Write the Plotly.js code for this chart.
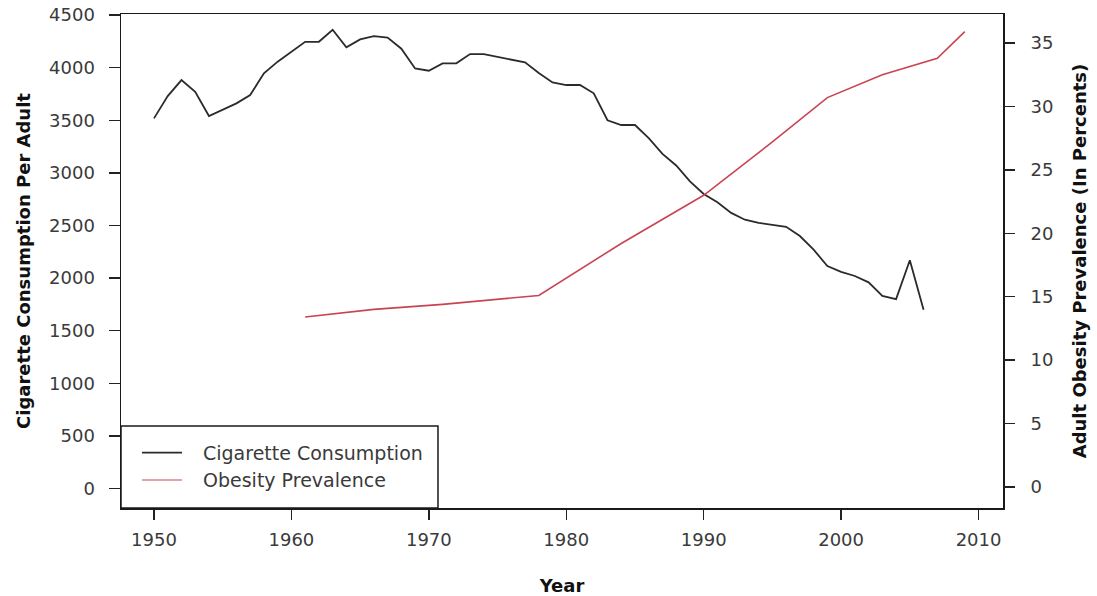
<!DOCTYPE html>
<html>
<head>
<meta charset="utf-8">
<script src="https://cdn.plot.ly/plotly-3.0.1.min.js"></script>
<style>
  html, body { margin: 0; padding: 0; background: #ffffff; }
  #chart { width: 1097px; height: 596px; }
</style>
</head>
<body>
<div id="chart"></div>
<script>
// ---- data ----
const cigYears = [1950,1951,1952,1953,1954,1955,1956,1957,1958,1959,
                  1960,1961,1962,1963,1964,1965,1966,1967,1968,1969,
                  1970,1971,1972,1973,1974,1975,1976,1977,1978,1979,
                  1980,1981,1982,1983,1984,1985,1986,1987,1988,1989,
                  1990,1991,1992,1993,1994,1995,1996,1997,1998,1999,
                  2000,2001,2002,2003,2004,2005,2006];
const cigValues = [3518,3730,3882,3771,3540,3597,3661,3740,3946,4057,
                   4151,4246,4246,4360,4193,4269,4300,4285,4180,3993,
                   3971,4041,4041,4129,4129,4105,4080,4050,3950,3860,
                   3835,3835,3756,3500,3455,3455,3330,3180,3070,2920,
                   2800,2720,2620,2555,2525,2505,2488,2400,2270,2115,
                   2060,2020,1960,1830,1800,2170,1700];

const obYears  = [1961, 1966, 1971, 1978, 1984, 1990, 1995, 1999, 2003, 2007, 2009];
const obValues = [13.4, 14.0, 14.4, 15.1, 19.2, 23.0, 27.2, 30.7, 32.5, 33.8, 35.9];

const seriesNames = ["Cigarette Consumption", "Obesity Prevalence"];

const xTickVals = [1950, 1960, 1970, 1980, 1990, 2000, 2010];
const xTickText = ["1950", "1960", "1970", "1980", "1990", "2000", "2010"];
const yLeftTicks  = [0, 500, 1000, 1500, 2000, 2500, 3000, 3500, 4000, 4500];
const yRightTicks = [0, 5, 10, 15, 20, 25, 30, 35];

// ---- styling ----
const FONT = "DejaVu Sans, Liberation Sans, Arial, sans-serif";
const TXT = "#3a3a3a";
const BLACK = "#2b2b2b";
const RED = "#c94452";

const traces = [
  { x: cigYears, y: cigValues, name: seriesNames[0], type: "scatter", mode: "lines",
    line: { color: BLACK, width: 1.8 }, xaxis: "x", yaxis: "y", showlegend: false },
  { x: obYears, y: obValues, name: seriesNames[1], type: "scatter", mode: "lines",
    line: { color: RED, width: 1.6 }, xaxis: "x", yaxis: "y2", showlegend: false }
];

// legend drawn as shapes + annotations (box at lower left of plot)
const lgX0 = 0, lgX1 = 0.3594, lgY0 = 0, lgY1 = 0.166;
const shapes = [
  { type: "rect", xref: "paper", yref: "paper", x0: lgX0, x1: lgX1, y0: lgY0, y1: lgY1,
    line: { color: "#1a1a1a", width: 1.5 }, fillcolor: "rgba(255,255,255,0)" },
  { type: "line", xref: "paper", yref: "paper", x0: 0.0238, x1: 0.0692, y0: 0.112, y1: 0.112,
    line: { color: BLACK, width: 1.8 } },
  { type: "line", xref: "paper", yref: "paper", x0: 0.0238, x1: 0.0692, y0: 0.0567, y1: 0.0567,
    line: { color: "#e3a3aa", width: 2 } }
];
const annotations = [
  { xref: "paper", yref: "paper", x: 0.0907, y: 0.112, xanchor: "left", yanchor: "middle",
    text: seriesNames[0], showarrow: false, font: { family: FONT, size: 19, color: TXT } },
  { xref: "paper", yref: "paper", x: 0.0907, y: 0.0567, xanchor: "left", yanchor: "middle",
    text: seriesNames[1], showarrow: false, font: { family: FONT, size: 19, color: TXT } }
];

const layout = {
  width: 1097, height: 596,
  margin: { l: 121, r: 94, t: 14, b: 88, pad: 0 },
  paper_bgcolor: "#ffffff", plot_bgcolor: "#ffffff",
  font: { family: FONT, size: 18, color: TXT },
  showlegend: false,
  xaxis: {
    range: [1947.6, 2011.78],
    tickmode: "array", tickvals: xTickVals, ticktext: xTickText,
    ticks: "outside", ticklen: 10, tickwidth: 1.5, tickcolor: "#222",
    showline: true, linecolor: "#1a1a1a", linewidth: 1.5, mirror: true,
    showgrid: false, zeroline: false,
    ticklabelstandoff: 5,
    tickfont: { family: FONT, size: 18, color: TXT },
    title: { text: "Year", font: { family: FONT, size: 18, color: "#111", weight: "bold" }, standoff: 31 },
    automargin: false
  },
  yaxis: {
    range: [-185, 4510],
    tickmode: "array", tickvals: yLeftTicks,
    ticks: "outside", ticklen: 11, tickwidth: 1.5, tickcolor: "#222",
    showline: true, linecolor: "#1a1a1a", linewidth: 1.5, mirror: true,
    showgrid: false, zeroline: false,
    ticklabelstandoff: 10,
    tickfont: { family: FONT, size: 18, color: TXT },
    title: { text: "Cigarette Consumption Per Adult", font: { family: FONT, size: 18, color: "#111", weight: "bold" }, standoff: 14 },
    automargin: false
  },
  yaxis2: {
    overlaying: "y", side: "right",
    range: [-1.655, 37.29],
    tickmode: "array", tickvals: yRightTicks,
    ticks: "outside", ticklen: 11, tickwidth: 1.5, tickcolor: "#222",
    showline: false, showgrid: false, zeroline: false,
    ticklabelstandoff: 12,
    tickfont: { family: FONT, size: 18, color: TXT },
    title: { text: "Adult Obesity Prevalence (In Percents)", font: { family: FONT, size: 18, color: "#111", weight: "bold" }, standoff: 20 },
    automargin: false
  },
  shapes: shapes,
  annotations: annotations
};

Plotly.newPlot("chart", traces, layout, { staticPlot: true, displayModeBar: false });
</script>
</body>
</html>
